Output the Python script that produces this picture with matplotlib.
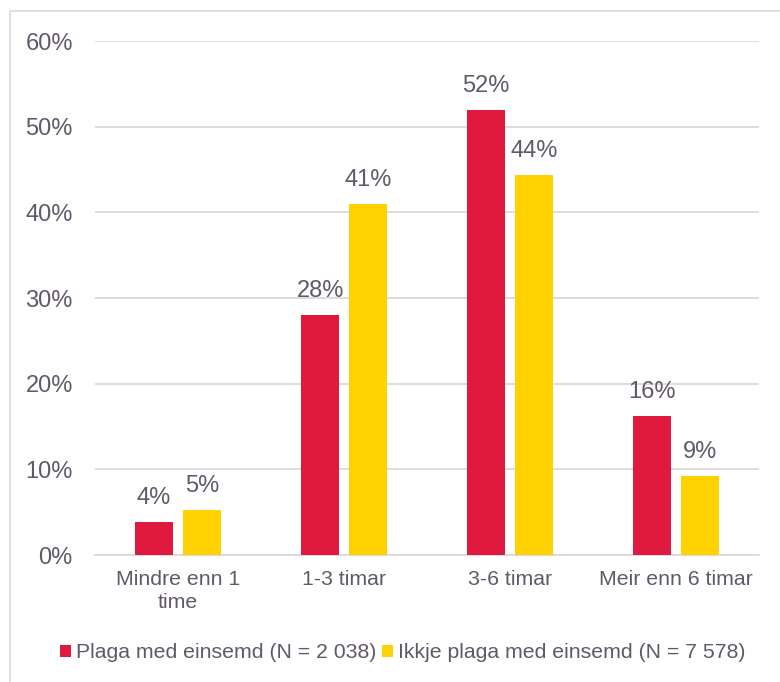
import numpy as np
import matplotlib.pyplot as plt
import matplotlib as mlt
from matplotlib.patches import Rectangle

mlt.rcParams["font.family"] = ["Liberation Sans", "DejaVu Sans"]

# data
kategoriar = ["Mindre enn 1\ntime", "1-3 timar", "3-6 timar", "Meir enn 6 timar"]
plaga = [3.85, 28.0, 51.9, 16.2]
ikkje_plaga = [5.25, 40.95, 44.3, 9.2]
etikett_plaga = ["4%", "28%", "52%", "16%"]
etikett_ikkje = ["5%", "41%", "44%", "9%"]
serienamn = ["Plaga med einsemd (N = 2 038)", "Ikkje plaga med einsemd (N = 7 578)"]

raud = "#E0193F"
gul = "#FFD100"
tekst = "#615968"
rutenett = "#DCD8DD"

fig = plt.figure(figsize=(7.8, 6.82), dpi=100)
ax = fig.add_axes([95/780, 1-555/682, 664/780, 514/682])

# ramme rundt figuren
fig.patches.append(Rectangle((10/780, -0.05), 1.0, (682-11)/682+0.05,
                             transform=fig.transFigure, fill=False,
                             edgecolor="#D9D9D9", linewidth=1.2))

x = np.arange(len(kategoriar))
b = 0.229
d = 0.144
s1 = ax.bar(x-d, plaga, b, color=raud, label=serienamn[0], zorder=3)
s2 = ax.bar(x+d, ikkje_plaga, b, color=gul, label=serienamn[1], zorder=3)

for rect, lab in zip(s1, etikett_plaga):
    ax.annotate(lab, (rect.get_x()+rect.get_width()/2, rect.get_height()),
                xytext=(0, 9.5), textcoords="offset points", ha="center", va="bottom",
                fontsize=17, color=tekst)
for rect, lab in zip(s2, etikett_ikkje):
    ax.annotate(lab, (rect.get_x()+rect.get_width()/2, rect.get_height()),
                xytext=(0, 9.5), textcoords="offset points", ha="center", va="bottom",
                fontsize=17, color=tekst)

ax.set_xlim(-0.5, 3.5)
ax.set_ylim(0, 60)
ax.set_yticks(np.arange(0, 61, 10))
ax.set_yticklabels([f"{v}%" for v in range(0, 61, 10)])
ax.set_xticks(x)
ax.set_xticklabels(kategoriar, linespacing=1.25)
ax.tick_params(axis="y", length=0, pad=16, labelsize=17, labelcolor=tekst)
ax.tick_params(axis="x", length=0, pad=11, labelsize=15.3, labelcolor=tekst)
ax.grid(axis="y", color=rutenett, linewidth=1.3, zorder=0)
for sp in ["top", "right", "left"]:
    ax.spines[sp].set_visible(False)
ax.spines["bottom"].set_color(rutenett)
ax.spines["bottom"].set_linewidth(1.3)

fig.legend(handles=[s1, s2], loc="center", bbox_to_anchor=(403/780, 1-653/682),
           ncol=2, frameon=False, fontsize=15.3, labelcolor=tekst,
           handlelength=0.52, handleheight=0.52, handletextpad=0.25, columnspacing=0.25)

fig.savefig("out.png", dpi=100)
